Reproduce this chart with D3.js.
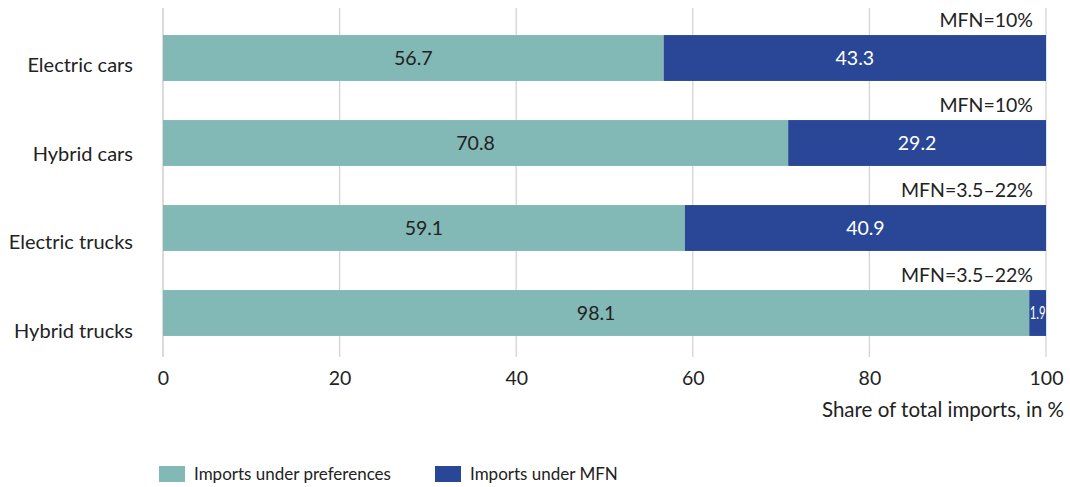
<!DOCTYPE html>
<html><head><meta charset="utf-8">
<script src="https://cdn.jsdelivr.net/npm/d3@7"></script>
<style>body{margin:0;background:#fff}svg{display:block}text{font-family:Lato,"Noto Sans",sans-serif}</style>
</head><body><svg id="c" width="1070" height="487"></svg>
<script>
const categories = ["Electric cars","Hybrid cars","Electric trucks","Hybrid trucks"];
const preferences = [56.7,70.8,59.1,98.1];
const mfn = [43.3,29.2,40.9,1.9];
const mfnRates = ["MFN=10%","MFN=10%","MFN=3.5–22%","MFN=3.5–22%"];
const ticks = [0,20,40,60,80,100];
const seriesNames = ["Imports under preferences","Imports under MFN"];
const colors = ["#82b8b5","#294796"];

const svg = d3.select("#c");
const x = d3.scaleLinear().domain([0,100]).range([163,1046]);
const y = d3.scaleBand().domain(categories).range([15.5,355.5]).paddingInner(0.46).paddingOuter(0.23);
const yl = d3.scalePoint().domain(categories).range([65,331]);
const FS = 19.5;

// grid
svg.append("g").selectAll("line").data(ticks).join("line")
  .attr("x1",d=>x(d)).attr("x2",d=>x(d)).attr("y1",8).attr("y2",357)
  .attr("stroke",d=>d===0?"#c8c8c8":"#d4d4d4").attr("stroke-width",1.3);

// bars
const rows = categories.map((c,i)=>({c,p:preferences[i],m:mfn[i],r:mfnRates[i]}));
const g = svg.append("g");
g.selectAll("rect.p").data(rows).join("rect").attr("class","p")
  .attr("x",x(0)).attr("y",d=>y(d.c)).attr("width",d=>x(d.p)-x(0)).attr("height",y.bandwidth()).attr("fill",colors[0]);
g.selectAll("rect.m").data(rows).join("rect").attr("class","m")
  .attr("x",d=>x(d.p)).attr("y",d=>y(d.c)).attr("width",d=>x(d.p+d.m)-x(d.p)).attr("height",y.bandwidth()).attr("fill",colors[1]);

g.selectAll("text.pl").data(rows).join("text")
  .attr("x",d=>x(d.p/2)).attr("y",d=>y(d.c)+y.bandwidth()/2).attr("dy","0.35em")
  .attr("text-anchor","middle").attr("font-size",FS).attr("fill","#222").text(d=>d.p.toFixed(1));
const ml = g.selectAll("text.ml").data(rows).join("text")
  .attr("x",d=>x(d.p+d.m/2)).attr("y",d=>y(d.c)+y.bandwidth()/2).attr("dy","0.35em")
  .attr("text-anchor","middle").attr("font-size",d=>d.m<5?17:FS)
  .attr("fill","#fff").text(d=>d.m.toFixed(1));
ml.filter(d=>d.m<5).attr("textLength",d=>x(d.p+d.m)-x(d.p)-1).attr("lengthAdjust","spacingAndGlyphs");

// MFN rate labels
g.selectAll("text.r").data(rows).join("text")
  .attr("x",1033).attr("y",d=>y(d.c)-8).attr("text-anchor","end")
  .attr("font-size",FS).attr("fill","#222").text(d=>d.r);

// category labels
svg.append("g").selectAll("text").data(categories).join("text")
  .attr("x",133).attr("y",d=>yl(d)).attr("dy","0.35em").attr("text-anchor","end")
  .attr("font-size",20).attr("fill","#222").text(d=>d);

// x axis labels
const ax = svg.append("g").attr("transform","translate(0,371)")
  .call(d3.axisBottom(x).tickValues(ticks).tickSize(0).tickPadding(0).tickFormat(d3.format("d")));
ax.select(".domain").remove();
ax.selectAll("text").attr("font-size",FS).attr("fill","#222").attr("font-family","Lato,'Noto Sans',sans-serif");

svg.append("text").attr("x",1064).attr("y",417).attr("text-anchor","end")
  .attr("font-size",20.5).attr("fill","#222").text("Share of total imports, in %");

// legend
const legX = [159,435];
const lg = svg.append("g").selectAll("g").data(seriesNames).join("g")
  .attr("transform",(d,i)=>`translate(${legX[i]},466)`);
lg.append("rect").attr("width",26).attr("height",16).attr("fill",(d,i)=>colors[i]);
lg.append("text").attr("x",35).attr("y",8).attr("dy","0.35em").attr("font-size",17).attr("fill","#222").text(d=>d);
</script></body></html>
